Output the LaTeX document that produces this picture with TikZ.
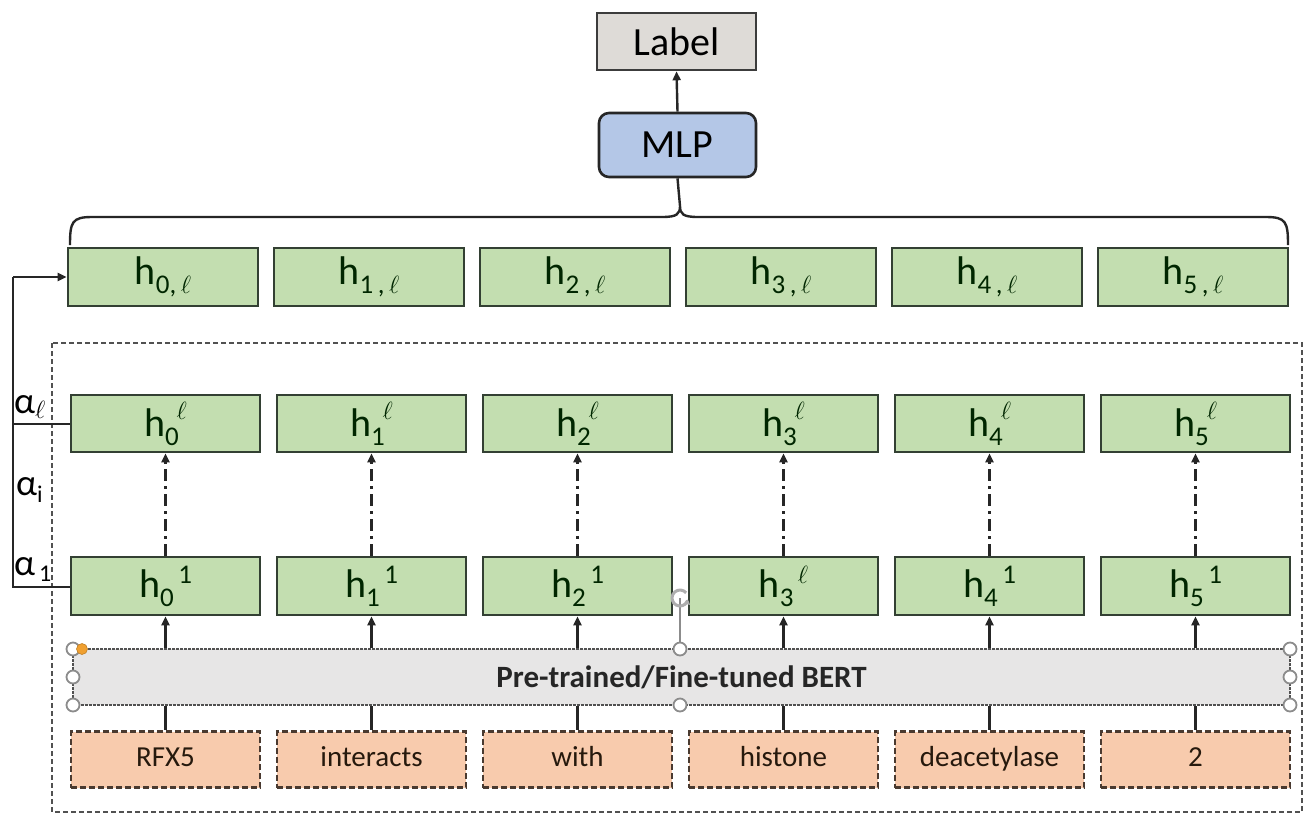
\documentclass[tikz,border=0pt]{standalone}
\usepackage{fontspec}
\setmainfont{Carlito}
\usetikzlibrary{arrows.meta}
\definecolor{gfill}{HTML}{C3DEB0}
\definecolor{gline}{HTML}{334033}
\definecolor{lblfill}{HTML}{DEDBD7}
\definecolor{mlpfill}{HTML}{B4C7E7}
\definecolor{bertfill}{HTML}{E7E6E6}
\definecolor{tokfill}{HTML}{F8CBAD}
\definecolor{tokline}{HTML}{4A3A30}
\definecolor{dk}{HTML}{262626}
\definecolor{hdl}{HTML}{8C8C8C}
\definecolor{orng}{HTML}{F0A030}
\newcommand{\hsb}[2]{{\fontsize{40}{40}\selectfont h}{\fontsize{27}{27}\selectfont\raisebox{-9pt}{#1}\kern-2pt\raisebox{17pt}{#2}}}
\newcommand{\hsbb}[2]{{\fontsize{40}{40}\selectfont h}{\fontsize{27}{27}\selectfont\raisebox{-9pt}{#1}\,\raisebox{14pt}{#2}}}
\newcommand{\hlo}[1]{{\fontsize{40}{40}\selectfont h}{\fontsize{27}{27}\selectfont\raisebox{-9pt}{#1}}}
\newcommand{\mell}{$\ell$}
\begin{document}
\begin{tikzpicture}[x=1pt,y=-1pt,
  hbox/.style={draw=gline,fill=gfill,line width=2.6pt,minimum width=189pt,minimum height=57pt,inner sep=0pt,text=black!85!green},
  tokbox/.style={draw=tokline,fill=tokfill,line width=2.8pt,dash pattern=on 6pt off 3pt,minimum width=189pt,minimum height=56pt,inner sep=0pt,font=\fontsize{29}{29}\selectfont,text=black!80!brown,text height=20pt,text depth=6pt},
  arr/.style={draw=dk,line width=2.4pt,-{Triangle[length=9pt,width=8pt]}},
  ln/.style={draw=dk,line width=2.4pt},
  dd/.style={arr,dash pattern=on 12pt off 5pt on 3pt off 5pt},
  hdlc/.style={draw=hdl,fill=white,line width=1.8pt,circle,minimum size=13pt,inner sep=0pt},
  alab/.style={font=\fontsize{37}{37}\selectfont,inner sep=0pt}
]
\useasboundingbox (0,0) rectangle (1303,815);
% container
\draw[draw=dk!80,line width=2pt,dash pattern=on 5pt off 3pt] (52,343) rectangle (1302,812);
% Label and MLP
\node[draw=dk!90,fill=lblfill,line width=2.6pt,minimum width=159pt,minimum height=57pt,inner sep=0pt,font=\fontsize{40}{40}\selectfont] (label) at (676.5,41.5) {Label};
\node[draw=dk,fill=mlpfill,line width=2.6pt,rounded corners=10pt,minimum width=157pt,minimum height=64pt,inner sep=0pt,font=\fontsize{40}{40}\selectfont] (mlp) at (677.5,145) {MLP};
\draw[arr] (mlp.north) -- (label.south);
% brace
\coordinate (btip) at (680,206);
\draw[ln] (70,245) .. controls (70,222) and (72,217) .. (92,217) -- (662,217) .. controls (677,217) and (680,214) .. (btip) .. controls (680,214) and (683,217) .. (698,217) -- (1266,217) .. controls (1286,217) and (1288,222) .. (1288,245);
\draw[ln] (mlp.south) -- (btip);
% rows
\foreach \i/\l in {0/{0,\,\mell},1/{1\,,\,\mell},2/{2\,,\,\mell},3/{3\,,\,\mell},4/{4\,,\,\mell},5/{5\,,\,\mell}} {
  \node[hbox,minimum width=190pt,minimum height=58pt] (t\i) at ({163+206*\i},277) {\hlo{\l}};
}
\foreach \i in {0,...,5} {
  \node[hbox] (m\i) at ({165.5+206*\i},423.5) {\hsb{\i}{\mell}};
}
\foreach \i/\s in {0/1,1/1,2/1,3/\mell,4/1,5/1} {
  \node[hbox,minimum height=58pt] (b\i) at ({165.5+206*\i},586) {\hsbb{\i}{\s}};
}
% BERT
\node[draw=dk!80,fill=bertfill,line width=2.2pt,dash pattern=on 3pt off 1pt,minimum width=1217pt,minimum height=56pt,inner sep=0pt,font=\fontsize{31}{31}\selectfont\bfseries,text=dk] (bert) at (681.5,677) {Pre-trained/Fine-tuned BERT};
% tokens
\foreach \i/\w in {0/RFX5,1/interacts,2/with,3/histone,4/deacetylase,5/2} {
  \node[tokbox] (k\i) at ({165.5+206*\i},759.5) {\w};
}
% connectors
\foreach \i in {0,...,5} {
  \draw[dd] (b\i.north) -- (m\i.south);
  \draw[arr] (b\i.south |- bert.north) -- (b\i.south);
  \draw[ln] (k\i.north) -- (k\i.north |- bert.south);
}
% left loop
\coordinate (lt) at (13,277);
\coordinate (lm) at (13,424);
\coordinate (lb) at (13,587);
\draw[ln] (m0.west |- lm) -- (lm);
\draw[ln] (b0.west |- lb) -- (lb) -- (lt);
\draw[arr] (lt) -- (t0.west |- lt);
\node[alab,anchor=south west] (a1) at (14,419) {α\raisebox{-5pt}{\fontsize{24}{24}\selectfont\mell}};
\node[alab,anchor=west] (a2) at (16,490) {α\raisebox{-7pt}{\fontsize{24}{24}\selectfont i}};
\node[alab,anchor=south west] (a3) at (14,582) {α\raisebox{-6pt}{\fontsize{24}{24}\selectfont\,1}};
% selection handles
\coordinate (rot) at (680,598);
\draw[hdl,line width=1.6pt] (rot) -- (680,649);
\draw[hdl!70,line width=3pt] (rot) ++(40:8pt) arc[start angle=40,end angle=340,radius=8pt];
\draw[hdl!70,line width=2pt,-{Triangle[length=5pt,width=6pt]}] (rot) ++(300:8pt) arc[start angle=300,end angle=350,radius=8pt];
\foreach \p in {(73,649),(73,677),(73,705),(680,649),(680,705),(1290,649),(1290,677),(1290,705)} {
  \node[hdlc] at \p {};
}
\node[circle,fill=orng,draw=orng!80!black,line width=0.6pt,minimum size=11pt,inner sep=0pt] (od) at (82,649) {};
\end{tikzpicture}
\end{document}
